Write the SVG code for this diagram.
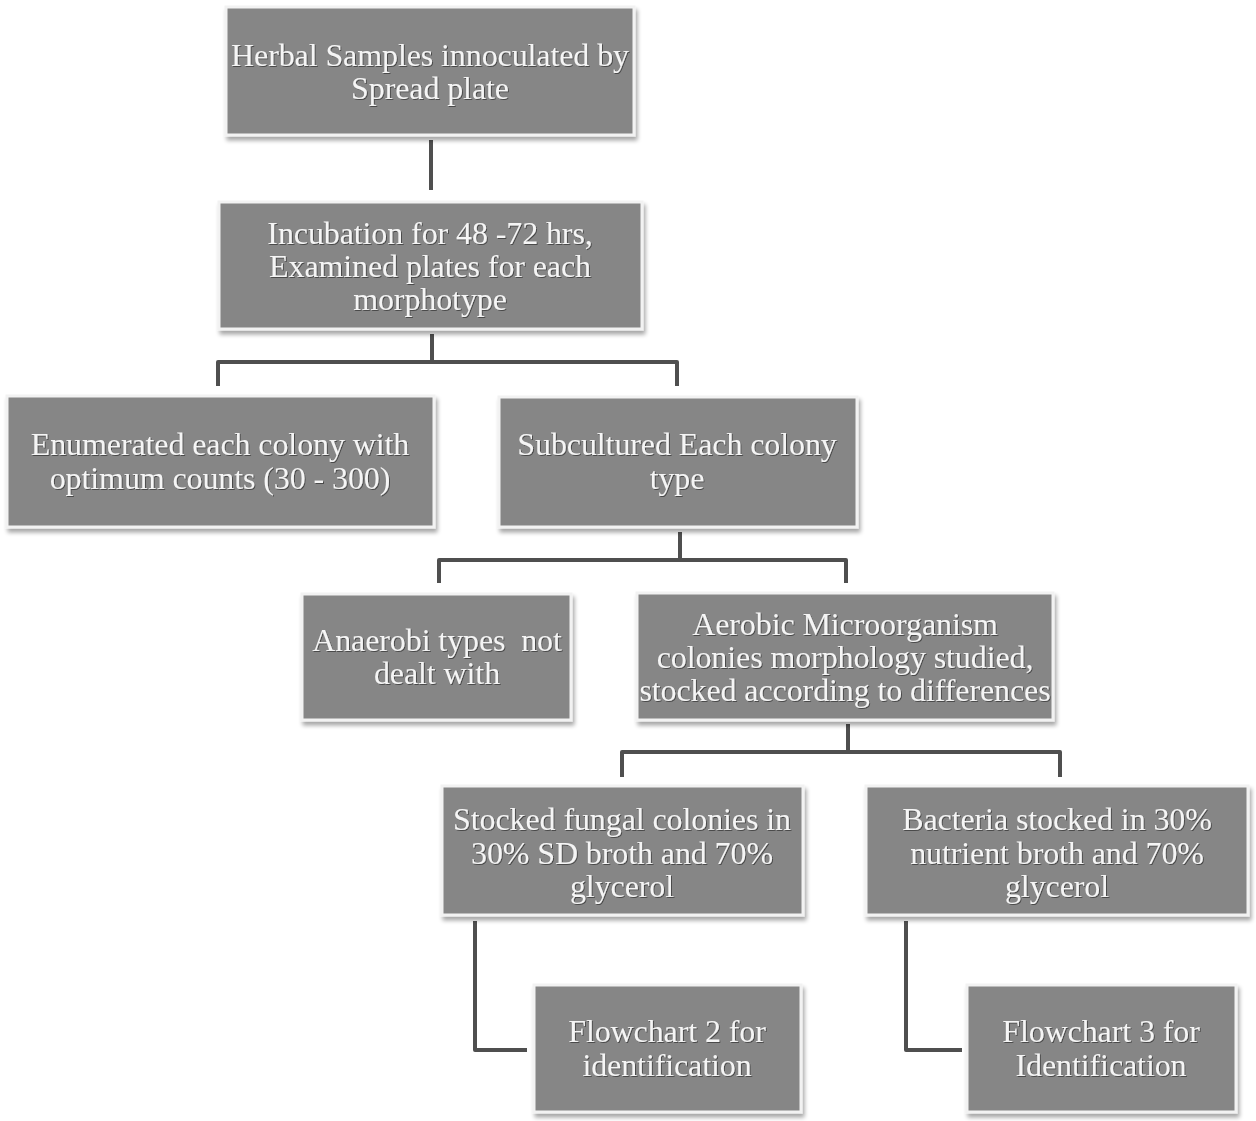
<svg xmlns="http://www.w3.org/2000/svg" width="1256" height="1121" viewBox="0 0 1256 1121">
<defs>
<filter id="sh" x="-5%" y="-5%" width="115%" height="125%">
<feGaussianBlur in="SourceAlpha" stdDeviation="2"/>
<feOffset dx="2" dy="4" result="b"/>
<feComponentTransfer><feFuncA type="linear" slope="0.35"/></feComponentTransfer>
<feMerge><feMergeNode/><feMergeNode in="SourceGraphic"/></feMerge>
</filter>
<filter id="ts" x="-5%" y="-20%" width="110%" height="140%">
<feOffset in="SourceAlpha" dx="1" dy="1" result="o"/>
<feComponentTransfer in="o" result="o2"><feFuncA type="linear" slope="0.45"/></feComponentTransfer>
<feMerge><feMergeNode in="o2"/><feMergeNode in="SourceGraphic"/></feMerge>
</filter>
</defs>
<style>
.box{fill:#868686;stroke:#f2f2f2;stroke-width:3;filter:url(#sh)}
.t{font-family:"Liberation Serif","Times New Roman",serif;font-size:32px;fill:#f5f5f5;text-anchor:middle;letter-spacing:-0.1px;filter:url(#ts)}
.c{fill:none;stroke:#4f4f4f;stroke-width:4;stroke-linejoin:round}
</style>
<rect width="1256" height="1121" fill="#ffffff"/>
<g id="connectors">
<path class="c" d="M431 140 V190"/>
<path class="c" d="M432 334 V362 M218 386 V362 H677 V386"/>
<path class="c" d="M680 532 V560 M439 583 V560 H846 V583"/>
<path class="c" d="M848 724 V752 M622 777 V752 H1060 V777"/>
<path class="c" d="M475 921 V1050 H527"/>
<path class="c" d="M906 921 V1050 H962"/>
</g>
<g id="n1"><rect class="box" x="226" y="7" width="408" height="128"/>
<text class="t"><tspan x="430" y="66">Herbal Samples innoculated by</tspan><tspan x="430" y="99">Spread plate</tspan></text></g>
<g id="n2"><rect class="box" x="219" y="202" width="423" height="127"/>
<text class="t"><tspan x="430" y="244">Incubation for 48 -72 hrs,</tspan><tspan x="430" y="277">Examined plates for each</tspan><tspan x="430" y="310">morphotype</tspan></text></g>
<g id="n3"><rect class="box" x="7" y="396" width="427" height="131"/>
<text class="t"><tspan x="220" y="455">Enumerated each colony with</tspan><tspan x="220" y="489">optimum counts (30 - 300)</tspan></text></g>
<g id="n4"><rect class="box" x="499" y="397" width="358" height="130"/>
<text class="t"><tspan x="677" y="455">Subcultured Each colony</tspan><tspan x="677" y="489">type</tspan></text></g>
<g id="n5"><rect class="box" x="302" y="594" width="269" height="126"/>
<text class="t" xml:space="preserve"><tspan x="437" y="651">Anaerobi types  not</tspan><tspan x="437" y="684">dealt with</tspan></text></g>
<g id="n6"><rect class="box" x="637" y="593" width="416" height="127"/>
<text class="t"><tspan x="845" y="635">Aerobic Microorganism</tspan><tspan x="845" y="668">colonies morphology studied,</tspan><tspan x="845" y="701">stocked according to differences</tspan></text></g>
<g id="n7"><rect class="box" x="442" y="786" width="361" height="129"/>
<text class="t"><tspan x="622" y="830">Stocked fungal colonies in</tspan><tspan x="622" y="864">30% SD broth and 70%</tspan><tspan x="622" y="897">glycerol</tspan></text></g>
<g id="n8"><rect class="box" x="866" y="786" width="382" height="129"/>
<text class="t"><tspan x="1057" y="830">Bacteria stocked in 30%</tspan><tspan x="1057" y="864">nutrient broth and 70%</tspan><tspan x="1057" y="897">glycerol</tspan></text></g>
<g id="n9"><rect class="box" x="534" y="985" width="267" height="127"/>
<text class="t"><tspan x="667" y="1042">Flowchart 2 for</tspan><tspan x="667" y="1076">identification</tspan></text></g>
<g id="n10"><rect class="box" x="967" y="985" width="269" height="127"/>
<text class="t"><tspan x="1101" y="1042">Flowchart 3 for</tspan><tspan x="1101" y="1076">Identification</tspan></text></g>
</svg>
